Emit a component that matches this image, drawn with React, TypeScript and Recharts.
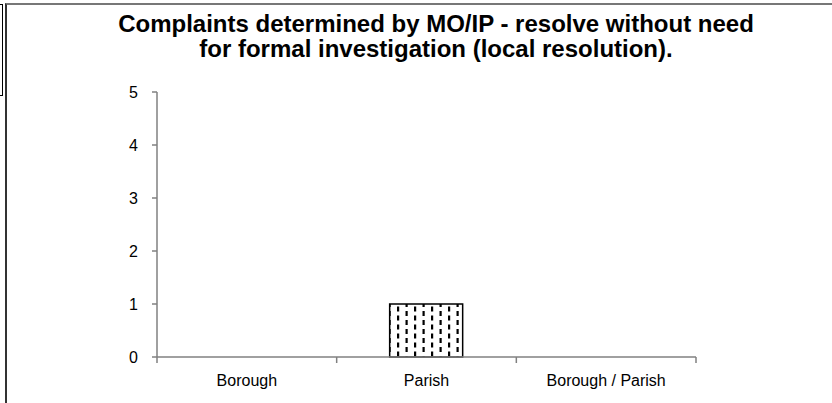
import { BarChart, Bar, XAxis, YAxis } from 'recharts'

const categories = ['Borough', 'Parish', 'Borough / Parish']
const complaints = [0, 1, 0]
const yTicks = [0, 1, 2, 3, 4, 5]

const data = categories.map((name, i) => ({ name, value: complaints[i] }))

const font = '"Liberation Sans", Arial, sans-serif'
const TICK_SIZE = 6
const TICK_MARGIN = 12

// category label plus the small divider ticks that sit between categories
function CategoryTick(props: any) {
  const { x, y, payload, index, visibleTicksCount } = props
  const half = payload.offset || 0
  const base = y - TICK_SIZE - TICK_MARGIN
  const last = index === visibleTicksCount - 1
  return (
    <g>
      <line x1={x - half} x2={x - half} y1={base} y2={base + TICK_SIZE} stroke="#808080" strokeWidth={1.5} />
      {last && (
        <line x1={x + half} x2={x + half} y1={base} y2={base + TICK_SIZE} stroke="#808080" strokeWidth={1.5} />
      )}
      <text x={x} y={y} dy="0.71em" textAnchor="middle" fill="#000" fontSize={16} fontFamily={font}>
        {payload.value}
      </text>
    </g>
  )
}

export default function App() {
  return (
    <div
      style={{
        position: 'fixed',
        left: 0,
        top: 0,
        width: 832,
        height: 403,
        background: '#fff',
        overflow: 'hidden',
        fontFamily: font,
      }}
    >
      {/* leftover box from the neighbouring sheet */}
      <div
        style={{
          position: 'absolute',
          left: -2,
          top: 4,
          width: 3,
          height: 90,
          border: '1px solid #000',
        }}
      />
      {/* chart frame */}
      <div
        style={{
          position: 'absolute',
          left: 5,
          top: 3,
          width: 840,
          height: 420,
          borderLeft: '2px solid #333',
          borderTop: '2px solid #777',
        }}
      />
      <div
        style={{
          position: 'absolute',
          left: 36,
          width: 800,
          top: 11,
          textAlign: 'center',
          fontWeight: 'bold',
          fontSize: 24,
          lineHeight: '25px',
          color: '#000',
        }}
      >
        Complaints determined by MO/IP - resolve without need
        <br />
        for formal investigation (local resolution).
      </div>
      <div style={{ position: 'absolute', left: 0, top: 0 }}>
        <BarChart
          width={832}
          height={403}
          data={data}
          margin={{ top: 92, right: 136, bottom: 16, left: 0 }}
        >
          <defs>
            <pattern id="dashes" width="17" height="9" patternUnits="userSpaceOnUse">
              <rect width="17" height="9" fill="#fff" />
              <rect x="6" y="0.5" width="2.2" height="5" fill="#000" />
              <rect x="14.5" y="5" width="2.2" height="4" fill="#000" />
              <rect x="14.5" y="0" width="2.2" height="1" fill="#000" />
            </pattern>
          </defs>
          <XAxis
            dataKey="name"
            height={30}
            interval={0}
            axisLine={{ stroke: '#808080', strokeWidth: 1.5 }}
            tickLine={false}
            tickSize={TICK_SIZE}
            tickMargin={TICK_MARGIN}
            tick={<CategoryTick />}
          />
          <YAxis
            width={157}
            domain={[0, 5]}
            ticks={yTicks}
            interval={0}
            tickSize={5}
            tickMargin={14}
            axisLine={{ stroke: '#808080', strokeWidth: 1.5 }}
            tickLine={{ stroke: '#808080', strokeWidth: 1.5 }}
            tick={{ fill: '#000', fontSize: 16, fontFamily: font }}
          />
          <Bar
            dataKey="value"
            barSize={73}
            fill="url(#dashes)"
            stroke="#000"
            strokeWidth={1.5}
            isAnimationActive={false}
          />
        </BarChart>
      </div>
    </div>
  )
}
